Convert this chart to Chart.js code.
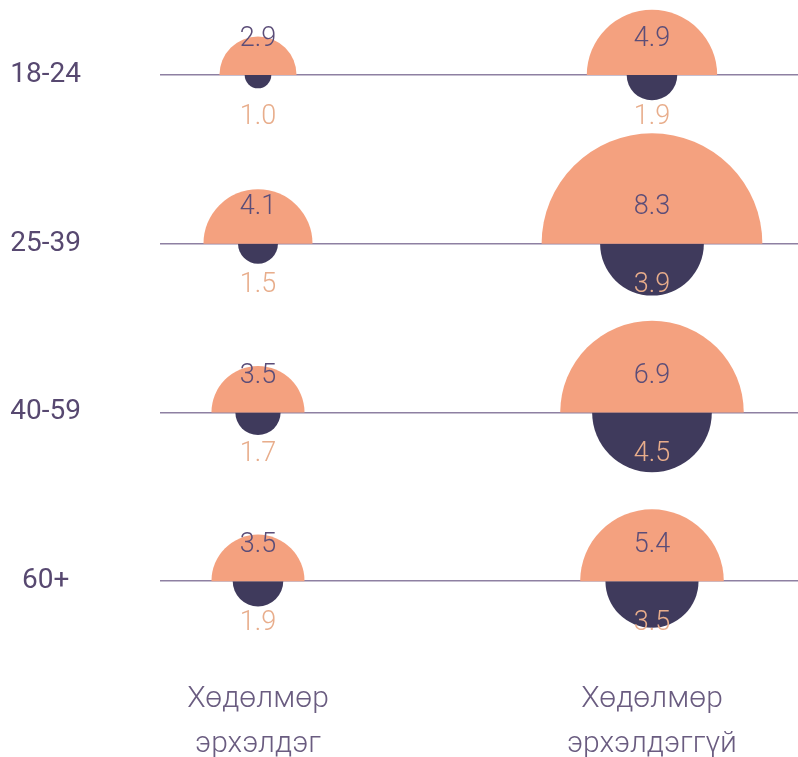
<!DOCTYPE html>
<html>
<head>
<meta charset="utf-8">
<script src="https://cdn.jsdelivr.net/npm/chart.js@4"></script>
<style>
html,body{margin:0;padding:0;background:#fff;}
#wrap{width:798px;height:757px;}
</style>
</head>
<body>
<div id="wrap"><canvas id="c" width="798" height="757"></canvas></div>
<script>
// Data
const ageGroups = ['18-24', '25-39', '40-59', '60+'];
const columnLabels = [['Хөдөлмөр', 'эрхэлдэг'], ['Хөдөлмөр', 'эрхэлдэггүй']];
// Upper (salmon) values: [employed, not employed] per age group
const upperEmployed    = [2.9, 4.1, 3.5, 3.5];
const upperNotEmployed = [4.9, 8.3, 6.9, 5.4];
// Lower (dark) values
const lowerEmployed    = [1.0, 1.5, 1.7, 1.9];
const lowerNotEmployed = [1.9, 3.9, 4.5, 3.5];

const PX_PER_UNIT = 13.3;
const SALMON = '#F4A17F';
const DARK = '#3F3A5C';
const TOP_TEXT = '#5B4D78';
const BOTTOM_TEXT = '#E8AD8B';

function buildPoints(emp, notEmp) {
  const pts = [];
  ageGroups.forEach((g, i) => {
    pts.push({x: 0, y: i, r: emp[i] * PX_PER_UNIT, v: emp[i]});
    pts.push({x: 1, y: i, r: notEmp[i] * PX_PER_UNIT, v: notEmp[i]});
  });
  return pts;
}

const halfCirclePlugin = {
  id: 'halfCircle',
  beforeDatasetDraw(chart, args) {
    const ctx = chart.ctx;
    const meta = args.meta;
    const half = chart.data.datasets[args.index].half;
    meta.data.forEach(el => {
      const r = el.options.radius;
      ctx.save();
      ctx.beginPath();
      if (half === 'upper') ctx.rect(el.x - r - 2, el.y - r - 2, 2 * r + 4, r + 2);
      else ctx.rect(el.x - r - 2, el.y, 2 * r + 4, r + 2);
      ctx.clip();
      el.draw(ctx);
      ctx.restore();
    });
    return false;
  },
  afterDatasetsDraw(chart) {
    const ctx = chart.ctx;
    chart.data.datasets.forEach((ds, di) => {
      const meta = chart.getDatasetMeta(di);
      meta.data.forEach((el, j) => {
        const val = ds.data[j].v;
        ctx.save();
        ctx.font = '300 27px Roboto';
        ctx.textAlign = 'center';
        ctx.textBaseline = 'middle';
        if (ds.half === 'upper') {
          ctx.fillStyle = TOP_TEXT;
          ctx.fillText(val.toFixed(1), el.x, el.y - 36);
        } else {
          ctx.fillStyle = BOTTOM_TEXT;
          ctx.fillText(val.toFixed(1), el.x, el.y + 42);
        }
        ctx.restore();
      });
    });
  }
};

new Chart(document.getElementById('c'), {
  type: 'bubble',
  data: {
    datasets: [
      {half: 'upper', data: buildPoints(upperEmployed, upperNotEmployed), backgroundColor: SALMON, borderWidth: 0},
      {half: 'lower', data: buildPoints(lowerEmployed, lowerNotEmployed), backgroundColor: DARK, borderWidth: 0}
    ]
  },
  options: {
    responsive: false,
    animation: false,
    events: [],
    layout: {padding: 0, autoPadding: false},
    plugins: {legend: {display: false}, tooltip: {enabled: false}},
    scales: {
      x: {
        type: 'linear',
        min: -0.2487,
        max: 1.3706,
        afterBuildTicks(scale) { scale.ticks = [{value: 0}, {value: 1}]; },
        afterFit(scale) { scale.height = 107; scale.paddingLeft = 0; scale.paddingRight = 0; },
        grid: {display: false, drawTicks: false},
        border: {display: false},
        ticks: {
          padding: 27,
          color: '#6A5C80',
          font: {family: 'Roboto', size: 30, weight: '300', lineHeight: 1.5},
          callback: (v) => columnLabels[v] || ''
        }
      },
      y: {
        type: 'linear',
        reverse: true,
        min: -0.4446,
        max: 3.408,
        z: 1,
        afterBuildTicks(scale) { scale.ticks = ageGroups.map((g, i) => ({value: i})); },
        afterFit(scale) { scale.width = 160; scale.paddingTop = 0; scale.paddingBottom = 0; },
        grid: {color: '#8E80A2', lineWidth: 1.5, drawTicks: false},
        border: {display: false},
        ticks: {
          crossAlign: 'center',
          padding: 79,
          color: '#574870',
          font: {family: 'Roboto', size: 28, weight: '400'},
          callback: (v) => ageGroups[v] || ''
        }
      }
    }
  },
  plugins: [halfCirclePlugin]
});
</script>
</body>
</html>
